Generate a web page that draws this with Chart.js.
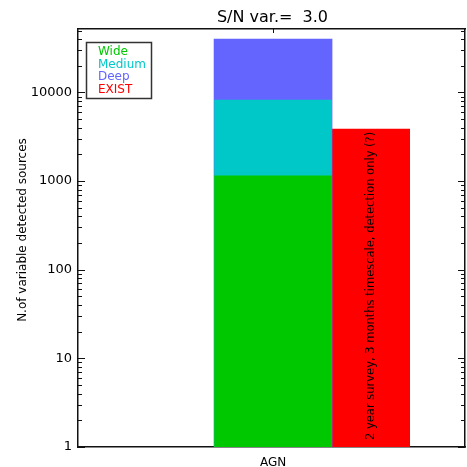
<!DOCTYPE html>
<html>
<head>
<meta charset="utf-8">
<title>S/N var.= 3.0</title>
<script src="https://cdn.jsdelivr.net/npm/chart.js@4.4.1/dist/chart.umd.min.js"></script>
<style>
  html, body { margin: 0; padding: 0; background: #fff; }
  #wrap { width: 467px; height: 467px; }
</style>
</head>
<body>
<div id="wrap"><canvas id="varChart" width="467" height="467"></canvas></div>
<script>
// Values
const categories = ['AGN'];
const seriesNames = ['Wide', 'Medium', 'Deep', 'EXIST'];
const wideValues = [1150];
const mediumValues = [8200];
const deepValues = [40000];
const existValues = [3850];
const yTickLabels = [1, 10, 100, 1000, 10000];

const titleText = 'S/N var.=  3.0';
const yAxisTitle = 'N.of variable detected sources';
const existNote = '2 year survey, 3 months timescale, detection only (?)';

document.addEventListener('DOMContentLoaded', function() {
    const canvas = document.getElementById('varChart');
    if (!canvas) {
        console.error('canvas not found');
        return;
    }

    Chart.defaults.font.family = 'DejaVu Sans';
    Chart.defaults.color = '#000';

    const colors = ['#00c800', '#00c8c8', '#6464ff', '#ff0000'];
    const axisColor = '#111';

    // category sits mid-axis, the EXIST bar sits to its right
    const catX = 0.504;
    const existX = 0.755;

    function floating(values, x) {
        return values.map(v => ({ x: x, y: [1, v] }));
    }

    // axis ticks pointing inward, like the original plot
    const innerTicks = {
        id: 'innerTicks',
        beforeDatasetsDraw(chart) {
            const c = chart.ctx;
            const a = chart.chartArea;
            const y = chart.scales.y;
            const x = chart.scales.x;
            c.save();
            c.strokeStyle = axisColor;
            c.lineWidth = 1;
            c.beginPath();
            for (let e = 1; e <= y.max; e *= 10) {
                for (let k = 1; k <= 9; k++) {
                    const v = k * e;
                    if (v > y.max) break;
                    const py = Math.round(y.getPixelForValue(v)) + 0.5;
                    const len = k === 1 ? 7 : 4;
                    c.moveTo(a.left, py); c.lineTo(a.left + len, py);
                    c.moveTo(a.right, py); c.lineTo(a.right - len, py);
                }
            }
            categories.forEach(() => {
                const px = Math.round(x.getPixelForValue(catX)) + 0.5;
                c.moveTo(px, a.top); c.lineTo(px, a.top + 4);
                c.moveTo(px, a.bottom); c.lineTo(px, a.bottom - 4);
            });
            c.stroke();
            c.restore();
        }
    };

    // title, y title, legend box and the note in the red bar
    const annotations = {
        id: 'annotations',
        afterDraw(chart) {
            const c = chart.ctx;
            const a = chart.chartArea;
            c.save();

            c.fillStyle = '#000';
            c.font = '16px "DejaVu Sans"';
            c.textAlign = 'center';
            c.textBaseline = 'alphabetic';
            c.fillText(titleText, (a.left + a.right) / 2 + 1, 22);

            c.save();
            c.font = '12px "DejaVu Sans"';
            c.translate(26, 230);
            c.rotate(-Math.PI / 2);
            c.textAlign = 'center';
            c.fillText(yAxisTitle, 0, 0);
            c.restore();

            // legend: coloured text only, inside a box
            c.strokeStyle = '#333';
            c.lineWidth = 1.5;
            c.strokeRect(86.5, 42.5, 65, 56);
            c.font = '12px "DejaVu Sans"';
            c.textAlign = 'left';
            chart.data.datasets.forEach((ds, i) => {
                c.fillStyle = ds.backgroundColor;
                c.fillText(ds.label, 98, 55 + i * 12.7);
            });

            const bar = chart.getDatasetMeta(3).data[0];
            if (bar) {
                c.save();
                c.fillStyle = '#000';
                c.font = '11.5px "DejaVu Sans"';
                c.translate(bar.x + 4, a.bottom - 7);
                c.rotate(-Math.PI / 2);
                c.textAlign = 'left';
                c.fillText(existNote, 0, 0);
                c.restore();
            }
            c.restore();
        }
    };

    const ctx = canvas.getContext('2d');
    const chart = new Chart(ctx, {
        type: 'bar',
        data: {
            datasets: [
                { label: seriesNames[0], data: floating(wideValues, catX), backgroundColor: colors[0], barThickness: 117 },
                { label: seriesNames[1], data: floating(mediumValues, catX), backgroundColor: colors[1], barThickness: 117 },
                { label: seriesNames[2], data: floating(deepValues, catX), backgroundColor: colors[2], barThickness: 118 },
                { label: seriesNames[3], data: floating(existValues, existX), backgroundColor: colors[3], barThickness: 79 }
            ]
        },
        options: {
            responsive: false,
            animation: false,
            grouped: false,
            layout: { padding: 0 },
            plugins: {
                legend: { display: false },
                tooltip: { enabled: false }
            },
            scales: {
                x: {
                    type: 'linear',
                    position: 'bottom',
                    min: 0,
                    max: 1,
                    offset: false,
                    grid: { display: false, drawTicks: false },
                    border: { display: true, color: axisColor, width: 1.5 },
                    afterBuildTicks: s => { s.ticks = categories.map(() => ({ value: catX })); },
                    afterFit: s => { s.height = 20; },
                    ticks: {
                        padding: 9,
                        autoSkip: false,
                        font: { size: 12 },
                        callback: (v, i) => categories[i]
                    }
                },
                x2: {
                    type: 'linear',
                    position: 'top',
                    min: 0,
                    max: 1,
                    grid: { display: false, drawTicks: false },
                    border: { display: true, color: axisColor, width: 1.5 },
                    ticks: { display: false },
                    afterFit: s => { s.height = 29; }
                },
                y: {
                    type: 'logarithmic',
                    position: 'left',
                    min: 1,
                    max: 52000,
                    grid: { display: false, drawTicks: false },
                    border: { display: true, color: axisColor, width: 1.5 },
                    afterBuildTicks: s => { s.ticks = yTickLabels.map(v => ({ value: v, major: true })); },
                    afterFit: s => { s.width = 78; },
                    ticks: {
                        padding: 6,
                        autoSkip: false,
                        font: { size: 13 },
                        callback: v => String(v)
                    }
                },
                y2: {
                    type: 'logarithmic',
                    position: 'right',
                    min: 1,
                    max: 52000,
                    grid: { display: false, drawTicks: false },
                    border: { display: true, color: axisColor, width: 1.5 },
                    ticks: { display: false },
                    afterFit: s => { s.width = 2; }
                }
            }
        },
        plugins: [innerTicks, annotations]
    });
});
</script>
</body>
</html>
